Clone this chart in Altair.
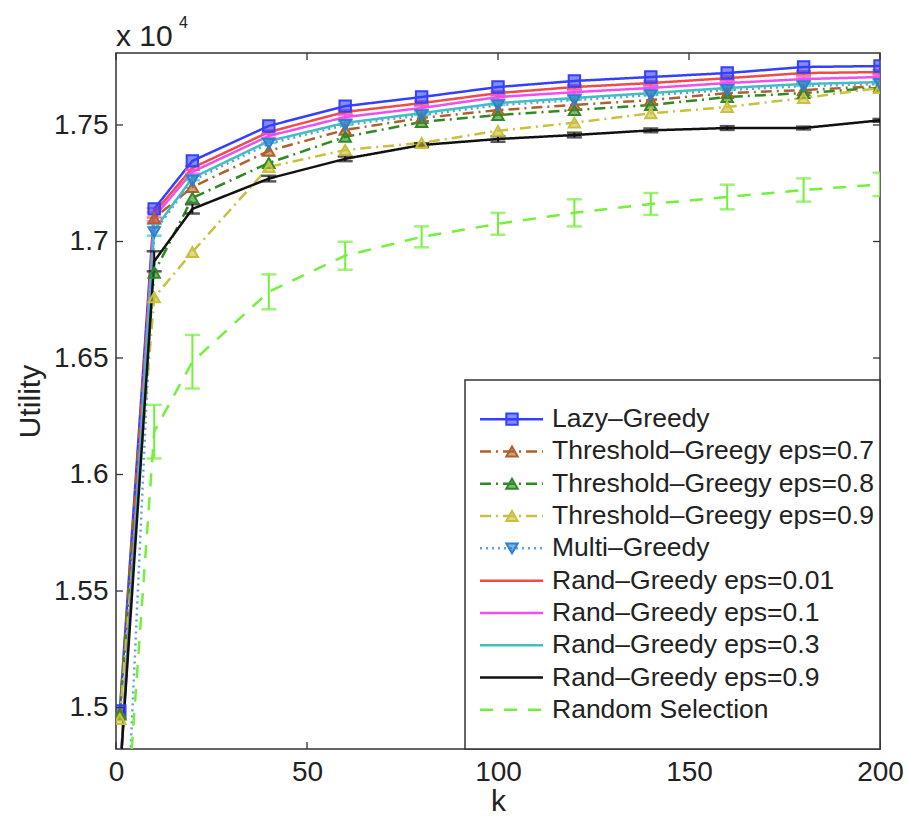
import altair as alt
import pandas as pd

# ---- data (utility in units of 10^4) ----
k_values = [1, 10, 20, 40, 60, 80, 100, 120, 140, 160, 180, 200]

series_names = [
    "Lazy–Greedy",
    "Threshold–Greegy eps=0.7",
    "Threshold–Greegy eps=0.8",
    "Threshold–Greegy eps=0.9",
    "Multi–Greedy",
    "Rand–Greedy eps=0.01",
    "Rand–Greedy eps=0.1",
    "Rand–Greedy eps=0.3",
    "Rand–Greedy eps=0.9",
    "Random Selection",
]

lazy_greedy = [1.4985, 1.7140, 1.7346, 1.7496, 1.7581, 1.7620, 1.7663, 1.7689, 1.7706, 1.7723, 1.7749, 1.7753]
thr_07 = [1.4975, 1.7100, 1.7234, 1.7389, 1.7479, 1.7530, 1.7564, 1.7586, 1.7607, 1.7637, 1.7650, 1.7667]
thr_08 = [1.4970, 1.6866, 1.7187, 1.7337, 1.7449, 1.7513, 1.7543, 1.7564, 1.7586, 1.7620, 1.7637, 1.7660]
thr_09 = [1.4951, 1.6760, 1.6955, 1.7320, 1.7393, 1.7423, 1.7475, 1.7510, 1.7550, 1.7577, 1.7616, 1.7659]
multi_greedy = [1.3800, 1.7040, 1.7262, 1.7420, 1.7500, 1.7542, 1.7585, 1.7607, 1.7628, 1.7650, 1.7667, 1.7676]
rand_001 = [1.4700, 1.7123, 1.7316, 1.7470, 1.7556, 1.7594, 1.7637, 1.7663, 1.7680, 1.7701, 1.7723, 1.7727]
rand_01 = [1.4700, 1.7106, 1.7299, 1.7453, 1.7534, 1.7573, 1.7620, 1.7641, 1.7659, 1.7680, 1.7697, 1.7706]
rand_03 = [1.4700, 1.7050, 1.7273, 1.7431, 1.7509, 1.7551, 1.7594, 1.7616, 1.7637, 1.7659, 1.7676, 1.7684]
rand_09 = [1.4700, 1.6915, 1.7140, 1.7270, 1.7355, 1.7414, 1.7440, 1.7457, 1.7477, 1.7487, 1.7487, 1.7520]
random_sel = [1.4100, 1.6184, 1.6484, 1.6784, 1.6939, 1.7020, 1.7076, 1.7123, 1.7161, 1.7191, 1.7221, 1.7245]

# half-widths of the error bars (0 = no bar)
no_err = [0] * len(k_values)
err_rand_001 = [0, 0.0020, 0.0008, 0.0008, 0.0008, 0.0008, 0.0008, 0.0008, 0.0008, 0.0008, 0.0008, 0.0008]
err_rand_01 = [0, 0.0020, 0.0008, 0.0008, 0.0008, 0.0008, 0.0008, 0.0008, 0.0008, 0.0008, 0.0008, 0.0008]
err_rand_03 = [0, 0.0025, 0.0010, 0.0008, 0.0008, 0.0008, 0.0008, 0.0008, 0.0008, 0.0008, 0.0008, 0.0008]
err_rand_09 = [0, 0.0043, 0.0020, 0.0012, 0.0010, 0.0008, 0.0012, 0.0010, 0.0008, 0.0008, 0.0006, 0.0006]
err_random = [0, 0.0115, 0.0115, 0.0075, 0.0060, 0.0045, 0.0047, 0.0058, 0.0047, 0.0053, 0.0050, 0.0050]

values = [lazy_greedy, thr_07, thr_08, thr_09, multi_greedy,
          rand_001, rand_01, rand_03, rand_09, random_sel]
errors = [no_err, no_err, no_err, no_err, no_err,
          err_rand_001, err_rand_01, err_rand_03, err_rand_09, err_random]

x_ticks = [0, 50, 100, 150, 200]
y_ticks = [1.5, 1.55, 1.6, 1.65, 1.7, 1.75]

# ---- styles ----
colors = ["#3340ff", "#b0602a", "#2f8a25", "#c9c03d", "#5aa2e0",
          "#f24a4a", "#f04ef0", "#3fbfbf", "#111111", "#72f03a"]
dash_dot = [11, 5, 2, 5]
dashes = [[1, 0], dash_dot, dash_dot, dash_dot, [2, 4],
          [1, 0], [1, 0], [1, 0], [1, 0], [13, 11]]
marker_series = series_names[:5]
marker_shapes = ["square", "triangle-up", "triangle-up", "triangle-up", "triangle-down"]
marker_colors = ["#3340ff", "#b0602a", "#2f8a25", "#c9c03d", "#2f7fd0"]

W, H = 764, 696
Y_MIN, Y_MAX = 1.4822, 1.7809
FONT = "Liberation Sans"

rows = []
for name, vals, errs in zip(series_names, values, errors):
    for kk, v, e in zip(k_values, vals, errs):
        rows.append({"series": name, "k": kk, "u": v, "lo": v - e, "hi": v + e, "err": e})
df = pd.DataFrame(rows)
df_err = df[df["err"] > 0]
df_mark = df[df["series"].isin(marker_series)]

color_scale = alt.Scale(domain=series_names, range=colors)
dash_scale = alt.Scale(domain=series_names, range=dashes)
shape_scale = alt.Scale(domain=marker_series, range=marker_shapes)
mcolor_scale = alt.Scale(domain=marker_series, range=marker_colors)

x_scale = alt.Scale(domain=[0, 200], nice=False, zero=False)
y_scale = alt.Scale(domain=[Y_MIN, Y_MAX], nice=False, zero=False)

x_axis = alt.Axis(values=x_ticks, title="k", labelPadding=9, labelFlush=False,
                  titleY=52, titleBaseline="middle")
y_axis = alt.Axis(values=y_ticks, format="~g", title="Utility", labelPadding=8,
                  labelFlush=False, titleX=-86, titleY=H / 2, titleAngle=-90,
                  titleAlign="center", titleBaseline="middle")
x_enc = alt.X("k:Q", scale=x_scale, axis=x_axis)
y_enc = alt.Y("u:Q", scale=y_scale, axis=y_axis)
color_enc = alt.Color("series:N", scale=color_scale, legend=None)
dash_enc = alt.StrokeDash("series:N", scale=dash_scale, legend=None)

# curves
lines = alt.Chart(df).mark_line(clip=True, strokeWidth=2.5).encode(
    x=x_enc, y=y_enc, color=color_enc, strokeDash=dash_enc, detail="series:N")

# error bars with caps
err_rules = alt.Chart(df_err).mark_rule(clip=True, strokeWidth=2).encode(
    x=x_enc, y=alt.Y("lo:Q", scale=y_scale, axis=y_axis), y2="hi:Q", color=color_enc)
cap_lo = alt.Chart(df_err).mark_tick(clip=True, orient="horizontal", size=15, thickness=2.5).encode(
    x=x_enc, y=alt.Y("lo:Q", scale=y_scale, axis=y_axis), color=color_enc)
cap_hi = alt.Chart(df_err).mark_tick(clip=True, orient="horizontal", size=15, thickness=2.5).encode(
    x=x_enc, y=alt.Y("hi:Q", scale=y_scale, axis=y_axis), color=color_enc)

# markers
markers = alt.Chart(df_mark).mark_point(clip=True, size=130, strokeWidth=2, fillOpacity=0.6).encode(
    x=x_enc, y=y_enc,
    shape=alt.Shape("series:N", scale=shape_scale, legend=None),
    stroke=alt.Stroke("series:N", scale=mcolor_scale, legend=None),
    fill=alt.Fill("series:N", scale=mcolor_scale, legend=None))

# inward tick marks on all four sides
xt = pd.DataFrame({"k": x_ticks})
yt = pd.DataFrame({"u": y_ticks})
tick_style = dict(color="#333", strokeWidth=1.3)
xt_bottom = alt.Chart(xt).mark_rule(**tick_style).encode(
    x=x_enc, y=alt.value(H), y2=alt.value(H - 7))
xt_top = alt.Chart(xt).mark_rule(**tick_style).encode(
    x=x_enc, y=alt.value(0), y2=alt.value(7))
yt_left = alt.Chart(yt).mark_rule(**tick_style).encode(
    y=y_enc, x=alt.value(0), x2=alt.value(7))
yt_right = alt.Chart(yt).mark_rule(**tick_style).encode(
    y=y_enc, x=alt.value(W), x2=alt.value(W - 7))

# exponent note above the y axis
one = pd.DataFrame({"a": [0]})
exp_base = alt.Chart(one).mark_text(align="left", baseline="alphabetic", fontSize=30,
                                    font=FONT, color="#222", text="x 10").encode(
    x=alt.value(0), y=alt.value(-7))
exp_pow = alt.Chart(one).mark_text(align="left", baseline="alphabetic", fontSize=16,
                                   font=FONT, color="#222", text="4").encode(
    x=alt.value(63), y=alt.value(-25))

main = alt.layer(lines, err_rules, cap_lo, cap_hi, markers,
                 xt_bottom, xt_top, yt_left, yt_right, exp_base, exp_pow)

# ---- legend box ----
leg_df = pd.DataFrame({"series": series_names})
leg_mark_df = pd.DataFrame({"series": marker_series})
leg_y = alt.Y("series:N", scale=alt.Scale(domain=series_names, range=[350, 673], padding=0),
              axis=None)

box = alt.Chart(one).mark_rect(fill="white", stroke="#333", strokeWidth=1.5).encode(
    x=alt.value(349), x2=alt.value(W), y=alt.value(327), y2=alt.value(H))
leg_lines = alt.Chart(leg_df).mark_rule(strokeWidth=2.5).encode(
    x=alt.value(364), x2=alt.value(427), y=leg_y, color=color_enc, strokeDash=dash_enc)
leg_marks = alt.Chart(leg_mark_df).mark_point(size=130, strokeWidth=2, fillOpacity=0.6).encode(
    x=alt.value(396), y=leg_y,
    shape=alt.Shape("series:N", scale=shape_scale, legend=None),
    stroke=alt.Stroke("series:N", scale=mcolor_scale, legend=None),
    fill=alt.Fill("series:N", scale=mcolor_scale, legend=None))
leg_text = alt.Chart(leg_df).mark_text(align="left", baseline="middle", fontSize=26.5,
                                       font=FONT, color="#222").encode(
    x=alt.value(436), y=leg_y, text="series:N")

legend = alt.layer(box, leg_lines, leg_marks, leg_text)

chart = alt.layer(main, legend).resolve_scale(y="independent").properties(
    width=W, height=H,
    autosize=alt.AutoSizeParams(type="none"),
    padding={"left": 116, "top": 53, "right": 30, "bottom": 71},
).configure(font=FONT, background="white").configure_axis(
    grid=False, ticks=False, domain=False,
    labelFont=FONT, labelFontSize=28, labelColor="#222",
    titleFont=FONT, titleFontSize=30, titleFontWeight="normal", titleColor="#222",
).configure_view(stroke="#333", strokeWidth=1.5)

chart.save("out.html", embed_options={"renderer": "svg", "actions": False})
